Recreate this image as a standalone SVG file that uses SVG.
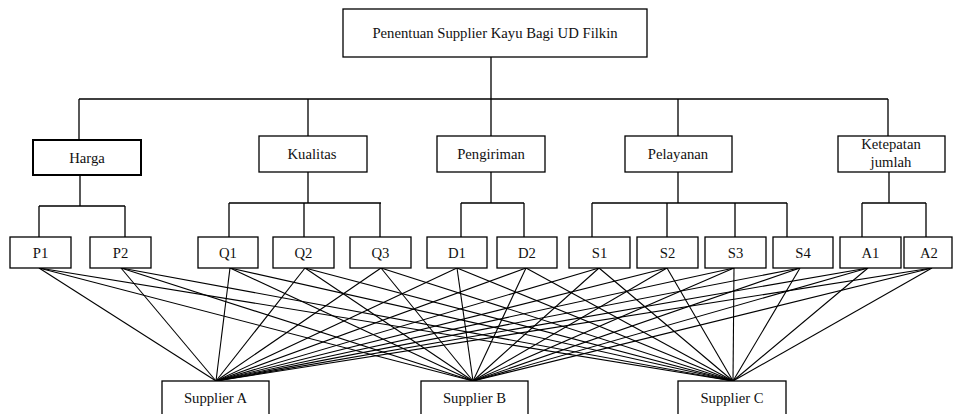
<svg xmlns="http://www.w3.org/2000/svg" width="955" height="414" viewBox="0 0 955 414" font-family="Liberation Serif, Times New Roman, DejaVu Serif, serif">
<style>
rect{fill:#fff;stroke:#000;stroke-width:1.3}
rect.thick{stroke-width:2}
text{font-family:'Liberation Serif','Times New Roman','DejaVu Serif',serif;font-size:14.7px;fill:#111;text-anchor:middle}
.tree path{stroke:#000;stroke-width:1.3;fill:none}
.links line{stroke:#000;stroke-width:1.1}
</style>
<rect x="0" y="0" width="955" height="414" style="stroke:none;fill:#fff"/>
<g id="connectors">
<g class="tree">
<path d="M491 57V99M79 99H888M79 99V140M308 99V136M491 99V136M678 99V136M888 99V136"/>
<path d="M80 175V206M39 206H125M39 206V237M125 206V237"/>
<path d="M308 172V203M229 203H381M229 203V237M304 203V237M380 203V237"/>
<path d="M491 172V203M461 203H524M461 203V237M524 203V237"/>
<path d="M678 172V203M592 203H787M592 203V237M667 203V237M735 203V237M787 203V237"/>
<path d="M889 172V203M862 203H926M862 203V237M926 203V237"/>
</g>
<g class="links">
<line x1="39" y1="268" x2="216" y2="381"/><line x1="39" y1="268" x2="473" y2="381"/><line x1="39" y1="268" x2="733" y2="381"/>
<line x1="121" y1="268" x2="216" y2="381"/><line x1="121" y1="268" x2="473" y2="381"/><line x1="121" y1="268" x2="733" y2="381"/>
<line x1="230" y1="268" x2="216" y2="381"/><line x1="230" y1="268" x2="473" y2="381"/><line x1="230" y1="268" x2="733" y2="381"/>
<line x1="305" y1="268" x2="216" y2="381"/><line x1="305" y1="268" x2="473" y2="381"/><line x1="305" y1="268" x2="733" y2="381"/>
<line x1="381" y1="268" x2="216" y2="381"/><line x1="381" y1="268" x2="473" y2="381"/><line x1="381" y1="268" x2="733" y2="381"/>
<line x1="457" y1="268" x2="216" y2="381"/><line x1="457" y1="268" x2="473" y2="381"/><line x1="457" y1="268" x2="733" y2="381"/>
<line x1="526" y1="268" x2="216" y2="381"/><line x1="526" y1="268" x2="473" y2="381"/><line x1="526" y1="268" x2="733" y2="381"/>
<line x1="599" y1="268" x2="216" y2="381"/><line x1="599" y1="268" x2="473" y2="381"/><line x1="599" y1="268" x2="733" y2="381"/>
<line x1="667" y1="268" x2="216" y2="381"/><line x1="667" y1="268" x2="473" y2="381"/><line x1="667" y1="268" x2="733" y2="381"/>
<line x1="734" y1="268" x2="216" y2="381"/><line x1="734" y1="268" x2="473" y2="381"/><line x1="734" y1="268" x2="733" y2="381"/>
<line x1="800" y1="268" x2="216" y2="381"/><line x1="800" y1="268" x2="473" y2="381"/><line x1="800" y1="268" x2="733" y2="381"/>
<line x1="868" y1="268" x2="216" y2="381"/><line x1="868" y1="268" x2="473" y2="381"/><line x1="868" y1="268" x2="733" y2="381"/>
<line x1="932" y1="268" x2="216" y2="381"/><line x1="932" y1="268" x2="473" y2="381"/><line x1="932" y1="268" x2="733" y2="381"/>
</g>
</g>
<g id="root"><rect x="343" y="9" width="304" height="48"/><text x="495" y="38">Penentuan Supplier Kayu Bagi UD Filkin</text></g>
<g id="harga"><rect class="thick" x="33" y="140" width="108" height="35"/><text x="87" y="162.5">Harga</text></g>
<g id="kualitas"><rect x="259" y="136" width="108" height="36"/><text x="312" y="159">Kualitas</text></g>
<g id="pengiriman"><rect x="437" y="136" width="108" height="36"/><text x="491" y="159">Pengiriman</text></g>
<g id="pelayanan"><rect x="625" y="136" width="107" height="36"/><text x="678" y="159">Pelayanan</text></g>
<g id="ketepatan"><rect x="838" y="136" width="107" height="36"/><text x="891" y="149">Ketepatan</text><text x="891" y="167">jumlah</text></g>
<g id="P1"><rect x="10" y="237" width="61" height="31"/><text x="40.5" y="258">P1</text></g>
<g id="P2"><rect x="90" y="237" width="61" height="31"/><text x="120.5" y="258">P2</text></g>
<g id="Q1"><rect x="198" y="237" width="60" height="31"/><text x="228" y="258">Q1</text></g>
<g id="Q2"><rect x="273" y="237" width="61" height="31"/><text x="303.5" y="258">Q2</text></g>
<g id="Q3"><rect x="350" y="237" width="61" height="31"/><text x="380.5" y="258">Q3</text></g>
<g id="D1"><rect x="427" y="237" width="60" height="31"/><text x="457" y="258">D1</text></g>
<g id="D2"><rect x="497" y="237" width="60" height="31"/><text x="527" y="258">D2</text></g>
<g id="S1"><rect x="569" y="237" width="61" height="31"/><text x="599.5" y="258">S1</text></g>
<g id="S2"><rect x="637" y="237" width="61" height="31"/><text x="667.5" y="258">S2</text></g>
<g id="S3"><rect x="705" y="237" width="61" height="31"/><text x="735.5" y="258">S3</text></g>
<g id="S4"><rect x="773" y="237" width="60" height="31"/><text x="803" y="258">S4</text></g>
<g id="A1"><rect x="840" y="237" width="61" height="31"/><text x="870.5" y="258">A1</text></g>
<g id="A2"><rect x="904" y="237" width="48" height="31"/><text x="929" y="258">A2</text></g>
<g id="supplierA"><rect x="162" y="381" width="107" height="40"/><text x="215.5" y="403">Supplier A</text></g>
<g id="supplierB"><rect x="421" y="381" width="107" height="40"/><text x="474.5" y="403">Supplier B</text></g>
<g id="supplierC"><rect x="678" y="381" width="108" height="40"/><text x="732" y="403">Supplier C</text></g>
</svg>
